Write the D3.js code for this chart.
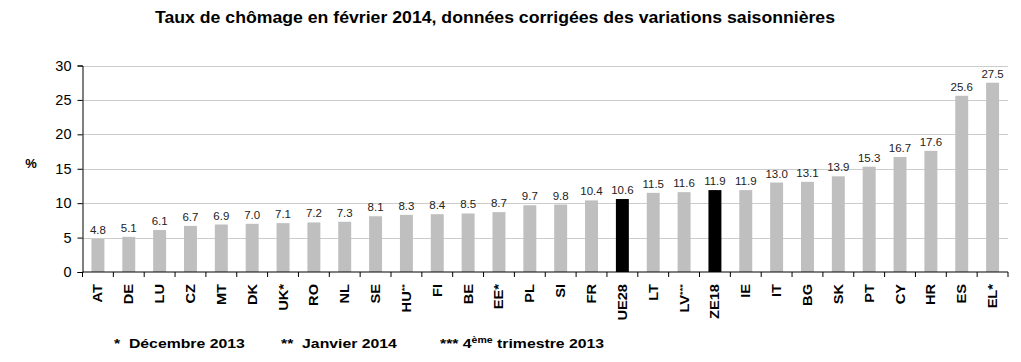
<!DOCTYPE html>
<html><head><meta charset="utf-8">
<script src="https://cdn.jsdelivr.net/npm/d3@7"></script>
<style>body{margin:0;background:#fff;}svg{display:block;font-family:"Liberation Sans",Arial,sans-serif;}</style>
</head><body>
<svg id="c" width="1021" height="362"></svg>
<script>
const categories = ["AT","DE","LU","CZ","MT","DK","UK*","RO","NL","SE","HU**","FI","BE","EE*","PL","SI","FR","UE28","LT","LV***","ZE18","IE","IT","BG","SK","PT","CY","HR","ES","EL*"];
const values = [4.8,5.1,6.1,6.7,6.9,7.0,7.1,7.2,7.3,8.1,8.3,8.4,8.5,8.7,9.7,9.8,10.4,10.6,11.5,11.6,11.9,11.9,13.0,13.1,13.9,15.3,16.7,17.6,25.6,27.5];
const highlighted = ["UE28","ZE18"];
const yTicks = [0,5,10,15,20,25,30];

(function(){
const svg = d3.select("#c");
const pL = 82.5, pR = 1008, pT = 65.5, pB = 272;
const x = d3.scaleBand().domain(categories).range([pL, pR]).paddingInner(0.58).paddingOuter(0.29);
const y = d3.scaleLinear().domain([0,30]).range([pB, pT]);

svg.append("text").attr("x", 495).attr("y", 23).attr("text-anchor","middle")
  .attr("font-size", 16).attr("font-weight","bold")
  .attr("textLength", 680).attr("lengthAdjust","spacingAndGlyphs")
  .text("Taux de chômage en février 2014, données corrigées des variations saisonnières");

// grid
svg.append("g").selectAll("line").data(yTicks.filter(d=>d>0)).join("line")
  .attr("x1", pL).attr("x2", pR).attr("y1", d=>Math.round(y(d))+0.5).attr("y2", d=>Math.round(y(d))+0.5)
  .attr("stroke","#999").attr("stroke-dasharray","1,1").attr("stroke-width",1);

// bars
svg.append("g").selectAll("rect").data(categories).join("rect")
  .attr("x", d=>x(d)).attr("width", x.bandwidth())
  .attr("y", (d,i)=>y(values[i])).attr("height", (d,i)=>pB - y(values[i]))
  .attr("fill", d=> highlighted.includes(d) ? "#000" : "#bfbfbf");

// value labels
svg.append("g").selectAll("text").data(categories).join("text")
  .attr("x", d=>x(d)+x.bandwidth()/2).attr("y", (d,i)=>y(values[i])-5)
  .attr("text-anchor","middle").attr("font-size", 11.5).attr("fill","#222")
  .text((d,i)=>values[i].toFixed(1));

// y axis
const ya = svg.append("g").attr("transform", `translate(${pL},0)`)
  .call(d3.axisLeft(y).tickValues(yTicks).tickSize(5).tickPadding(6));
ya.selectAll("text").attr("font-size", 14.5).attr("fill","#000").style("font-family","Liberation Sans, Arial, sans-serif");
ya.select(".domain").attr("stroke","#000");
ya.selectAll(".tick line").attr("stroke","#000");

svg.append("text").attr("x", 31).attr("y", 168).attr("text-anchor","middle").attr("font-size",13).attr("font-weight","bold").text("%");

// x axis
const xa = svg.append("g").attr("transform", `translate(0,${pB})`);
xa.append("line").attr("x1", pL).attr("x2", pR).attr("stroke","#000");
const bounds = d3.range(categories.length+1).map(i => pL + i*(pR-pL)/categories.length);
xa.selectAll("line.t").data(bounds).join("line").attr("class","t")
  .attr("x1", d=>d).attr("x2", d=>d).attr("y1",0).attr("y2",5).attr("stroke","#000");
xa.selectAll("text").data(categories).join("text")
  .attr("transform", d=>`translate(${x(d)+x.bandwidth()/2+4.5},12) rotate(-90) scale(1.17,1)`)
  .attr("text-anchor","end").attr("font-size",12.5).attr("font-weight","bold")
  .each(function(d){
    const t = d3.select(this);
    const m = d.match(/^([^*]*)(\**)$/);
    t.append("tspan").text(m[1]);
    if (m[2]) {
      if (m[2].length === 1) t.append("tspan").text(m[2]);
      else t.append("tspan").attr("font-size",8).attr("dy",-4).text(m[2]);
    }
  });

// footnotes
const fnote = (xp, parts) => {
  const t = svg.append("text").attr("transform", `translate(${xp},348) scale(1.17,1)`)
    .attr("font-size",13.5).attr("font-weight","bold");
  parts(t);
};
fnote(114, t => t.text("*\u00a0\u00a0Décembre 2013"));
fnote(281, t => t.text("**\u00a0\u00a0Janvier 2014"));
fnote(440, t => {
  t.append("tspan").text("*** 4");
  t.append("tspan").attr("font-size",9).attr("dy",-5).text("ème");
  t.append("tspan").attr("dy",5).text(" trimestre 2013");
});
})();
</script>
</body></html>
